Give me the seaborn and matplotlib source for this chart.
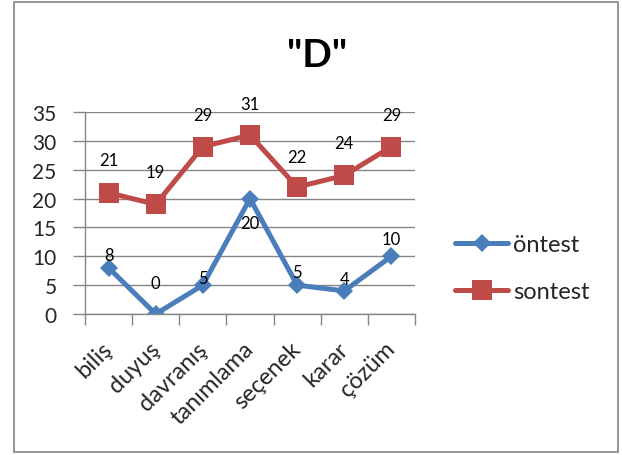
import matplotlib
matplotlib.use("Agg")
import matplotlib.pyplot as plt
import matplotlib.transforms as mtransforms
import seaborn as sns
import pandas as pd
from matplotlib.patches import Rectangle
from matplotlib.lines import Line2D

categories = ["biliş", "duyuş", "davranış", "tanımlama", "seçenek", "karar", "çözüm"]
ontest = [8, 0, 5, 20, 5, 4, 10]
sontest = [21, 19, 29, 31, 22, 24, 29]
series_names = ["öntest", "sontest"]
yticks = [0, 5, 10, 15, 20, 25, 30, 35]

df = pd.DataFrame({
    "kategori": categories * 2,
    "deger": ontest + sontest,
    "seri": [series_names[0]] * len(categories) + [series_names[1]] * len(categories),
})

sns.set_theme(style="white")
plt.rcParams["font.family"] = ["Lato", "DejaVu Sans"]

blue = "#4A7EBB"
red = "#BE4B48"
grid = "#868686"

fig = plt.figure(figsize=(6.22, 4.56), dpi=100)
W, H = 622, 456
ax = fig.add_axes([85 / W, (H - 315) / H, 330 / W, 202 / H])

sns.lineplot(data=df, x="kategori", y="deger", hue="seri", style="seri",
             palette={series_names[0]: blue, series_names[1]: red},
             markers={series_names[0]: "D", series_names[1]: "s"},
             dashes=False, sort=False, linewidth=3.6, markersize=11,
             markeredgewidth=0, ax=ax, legend=False)
for ln in ax.lines:
    if ln.get_marker() == "D":
        ln.set_markersize(9.5)
    else:
        ln.set_markersize(14)

ax.set_xlim(-0.5, len(categories) - 0.5)
ax.set_ylim(0, 35)
ax.set_yticks(yticks)
ax.set_yticklabels([str(v) for v in yticks], fontsize=15)
ax.yaxis.grid(True, color=grid, linewidth=1)
ax.set_axisbelow(True)
ax.set_xlabel("")
ax.set_ylabel("")
for s in ["top", "right"]:
    ax.spines[s].set_visible(False)
for s in ["left", "bottom"]:
    ax.spines[s].set_color(grid)
    ax.spines[s].set_linewidth(1)

ax.set_xticks([i - 0.5 for i in range(len(categories) + 1)])
ax.set_xticklabels([""] * (len(categories) + 1))
ax.set_xticks(range(len(categories)), minor=True)
ax.set_xticklabels(categories, minor=True, rotation=45, ha="right",
                   rotation_mode="anchor", fontsize=17)
ax.tick_params(axis="x", which="major", length=8, color=grid, width=1, direction="out", bottom=True)
ax.tick_params(axis="x", which="minor", length=0, pad=12)
ax.tick_params(axis="y", length=9, color=grid, width=1, direction="out", left=True, pad=11.5)
shift = mtransforms.ScaledTranslation(-7 / 100, -7 / 100, fig.dpi_scale_trans)
for lbl in ax.get_xticklabels(minor=True):
    lbl.set_transform(lbl.get_transform() + shift)

# data labels: baseline offsets in pixels above the point
on_off = [8, 26, 2, -29, 8, 7, 12]
son_off = [28, 27, 27, 26, 25, 27, 27]
for i, v in enumerate(ontest):
    ax.annotate(str(v), (i, v), xytext=(0, on_off[i] * 0.72), textcoords="offset points",
                ha="center", va="baseline", fontsize=12, color="black")
for i, v in enumerate(sontest):
    ax.annotate(str(v), (i, v), xytext=(0, son_off[i] * 0.72), textcoords="offset points",
                ha="center", va="baseline", fontsize=12, color="black", annotation_clip=False)

fig.text(317 / W, 1 - 67 / H, '"D"', ha="center", va="baseline",
         fontsize=28, fontweight="bold", color="black")

handles = [
    Line2D([], [], color=blue, marker="D", markersize=9.5, linewidth=3.6, markeredgewidth=0),
    Line2D([], [], color=red, marker="s", markersize=14, linewidth=3.6, markeredgewidth=0),
]
fig.legend(handles, series_names, loc="center left", bbox_to_anchor=(455 / W, 1 - 269 / H),
           frameon=False, fontsize=17, handlelength=2.25, handletextpad=0.2,
           labelspacing=1.1, borderpad=0, borderaxespad=0)

fig.patches.append(Rectangle((14 / W, 3 / H), 604 / W, 450 / H, transform=fig.transFigure,
                             fill=False, edgecolor="#8C8C8C", linewidth=1.3))

fig.savefig("out.png", dpi=100, facecolor="white")
